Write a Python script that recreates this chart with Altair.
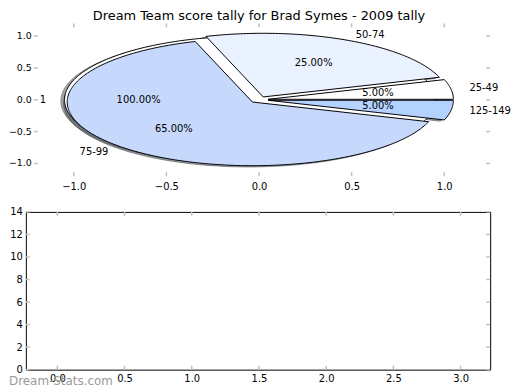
import altair as alt
import numpy as np
import pandas as pd

# ---------------- values ----------------
slice_labels = ["25-49", "50-74", "75-99", "125-149"]
slice_values = [5, 25, 65, 5]
slice_colors = ["#ffffff", "#eaf2ff", "#c6d9fd", "#b4d2ff"]

total_labels = ["1"]
total_values = [1]
total_colors = ["#ffffff"]

explode = 0.05

pie_x_ticks = [-1.0, -0.5, 0.0, 0.5, 1.0]
pie_y_ticks = [-1.0, -0.5, 0.0, 0.5, 1.0]
bar_x_ticks = [0.0, 0.5, 1.0, 1.5, 2.0, 2.5, 3.0]
bar_y_ticks = [0, 2, 4, 6, 8, 10, 12, 14]

title_text = "Dream Team score tally for Brad Symes - 2009 tally"
watermark_text = "Dream-Stats.com"

FONT = "DejaVu Sans"
TICK_COLOR = "#c0c0c0"

# ---------------- layout ----------------
TOP_W, TOP_H = 468, 154
BOT_W, BOT_H = 468, 159
pie_x_dom = [-1.2587, 1.2480]
pie_y_dom = [-1.2, 1.2]
bar_x_dom = [-0.234, 3.22]
bar_y_dom = [0, 14]


def shade(hexcol, f=0.3):
    h = hexcol.lstrip("#")
    r, g, b = (int(h[i:i + 2], 16) for i in (0, 2, 4))
    return "#%02x%02x%02x" % (int(r * f), int(g * f), int(b * f))


def pie_geometry(values, labels, colors, expl):
    """Wedge outlines and label anchors, as matplotlib's pie lays them out."""
    total = float(sum(values))
    t1 = 0.0
    wedges, texts = [], []
    for v, lab, col in zip(values, labels, colors):
        frac = v / total
        t2 = t1 + 360.0 * frac
        mid = np.radians((t1 + t2) / 2.0)
        cx, cy = expl * np.cos(mid), expl * np.sin(mid)
        n = int(abs(t2 - t1)) + 2
        ts = np.radians(np.linspace(t1, t2, n))
        xs = cx + np.cos(ts)
        ys = cy + np.sin(ts)
        if frac < 0.999999:
            xs = np.concatenate([[cx], xs, [cx]])
            ys = np.concatenate([[cy], ys, [cy]])
        wedges.append((pd.DataFrame({"x": xs, "y": ys, "i": np.arange(len(xs))}), col))
        lx = cx + 1.1 * np.cos(mid)
        ly = cy + 1.1 * np.sin(mid)
        px = cx + 0.6 * np.cos(mid)
        py = cy + 0.6 * np.sin(mid)
        texts.append(dict(x=lx, y=ly, t=lab, kind="label",
                          align="left" if lx > 0 else "right"))
        texts.append(dict(x=px, y=py, t="%.2f%%" % (100.0 * frac), kind="pct",
                          align="center"))
        t1 = t2
    return wedges, texts


def tick_text(v):
    s = "%.1f" % abs(v)
    return ("\u2212" + s) if v < 0 else s


tot_w, tot_t = pie_geometry(total_values, total_labels, total_colors, explode)
sl_w, sl_t = pie_geometry(slice_values, slice_labels, slice_colors, explode)
all_wedges = tot_w + sl_w
texts = pd.DataFrame(tot_t + sl_t)

px_axis = alt.Axis(values=pie_x_ticks, format=".1f", domain=False, ticks=False,
                   tickSize=0, grid=False, labelPadding=5, labelFontSize=10,
                   labelFont=FONT, labelColor="black", labelFlush=False,
                   labelOverlap=False, title=None)
PX = alt.X("x:Q", scale=alt.Scale(domain=pie_x_dom, nice=False, zero=False), axis=px_axis)
PY = alt.Y("y:Q", scale=alt.Scale(domain=pie_y_dom, nice=False, zero=False), axis=None)

layers = []
# shadows (drawn beneath every wedge)
for df, col in all_wedges:
    sdf = df.copy()
    sdf["x"] = sdf["x"] - 0.02
    sdf["y"] = sdf["y"] - 0.02
    sc = shade(col)
    layers.append(
        alt.Chart(sdf).mark_line(fill=sc, stroke=sc, fillOpacity=0.5,
                                 strokeOpacity=0.5, strokeWidth=1,
                                 strokeJoin="bevel")
        .encode(x=PX, y=PY, order="i:Q")
    )
# wedges
for df, col in all_wedges:
    layers.append(
        alt.Chart(df).mark_line(fill=col, stroke="black", strokeWidth=1,
                                strokeJoin="bevel")
        .encode(x=PX, y=PY, order="i:Q")
    )
# texts
for al in ["left", "right", "center"]:
    sub = texts[texts["align"] == al]
    layers.append(
        alt.Chart(sub).mark_text(align=al, baseline="middle", fontSize=10,
                                 font=FONT, color="black")
        .encode(x=PX, y=PY, text="t:N")
    )
# y tick labels of the pie axes
pyl = pd.DataFrame({"y": pie_y_ticks, "t": [tick_text(v) for v in pie_y_ticks]})
layers.append(
    alt.Chart(pyl).mark_text(align="right", baseline="middle", fontSize=9.5,
                             font=FONT, color="black")
    .encode(x=alt.value(6), y=PY, text="t:N")
)
# tick marks (inward, grey) on the four sides
pxt = pd.DataFrame({"x": pie_x_ticks})
pyt = pd.DataFrame({"y": pie_y_ticks})
tick_mark = dict(color=TICK_COLOR, strokeWidth=1.5)
layers += [
    alt.Chart(pxt).mark_rule(**tick_mark).encode(x=PX, y=alt.value(0), y2=alt.value(4)),
    alt.Chart(pxt).mark_rule(**tick_mark).encode(x=PX, y=alt.value(TOP_H - 4), y2=alt.value(TOP_H)),
    alt.Chart(pyt).mark_rule(**tick_mark).encode(y=PY, x=alt.value(8), x2=alt.value(12)),
    alt.Chart(pyt).mark_rule(**tick_mark).encode(y=PY, x=alt.value(TOP_W - 4), x2=alt.value(TOP_W)),
]
# title
layers.append(
    alt.Chart(pd.DataFrame({"t": [title_text]})).mark_text(
        align="center", baseline="alphabetic", fontSize=13, font=FONT, color="black")
    .encode(x=alt.value(235), y=alt.value(-3.1), text="t:N")
)
top = alt.layer(*layers).properties(width=TOP_W, height=TOP_H)

# ---------------- empty lower axes ----------------
bx_axis = alt.Axis(values=bar_x_ticks, format=".1f", domain=False, ticks=False,
                   tickSize=0, grid=False, labelPadding=4, labelFontSize=10,
                   labelFont=FONT, labelColor="black", labelFlush=False,
                   labelOverlap=False, title=None)
by_axis = alt.Axis(values=bar_y_ticks, format="d", domain=False, ticks=False,
                   tickSize=0, grid=False, labelPadding=3.5, labelFontSize=10,
                   labelFont=FONT, labelColor="black", labelFlush=False,
                   labelOverlap=False, title=None)
BX = alt.X("x:Q", scale=alt.Scale(domain=bar_x_dom, nice=False, zero=False), axis=bx_axis)
BY = alt.Y("y:Q", scale=alt.Scale(domain=bar_y_dom, nice=False, zero=False), axis=by_axis)
bxt = pd.DataFrame({"x": bar_x_ticks})
byt = pd.DataFrame({"y": bar_y_ticks})
bottom_layers = [
    alt.Chart(bxt).mark_rule(**tick_mark).encode(x=BX, y=alt.value(0), y2=alt.value(4)),
    alt.Chart(bxt).mark_rule(**tick_mark).encode(x=BX, y=alt.value(BOT_H - 4), y2=alt.value(BOT_H)),
    alt.Chart(byt).mark_rule(**tick_mark).encode(y=BY, x=alt.value(0), x2=alt.value(4)),
    alt.Chart(byt).mark_rule(**tick_mark).encode(y=BY, x=alt.value(BOT_W - 4), x2=alt.value(BOT_W)),
    alt.Chart(pd.DataFrame({"t": [watermark_text]})).mark_text(
        align="left", baseline="alphabetic", fontSize=12, font=FONT, color="#9a9a9a")
    .encode(x=alt.value(-17), y=alt.value(174.7), text="t:N"),
]
bottom = alt.layer(*bottom_layers).properties(
    width=BOT_W, height=BOT_H,
    view=alt.ViewBackground(stroke="black", strokeWidth=1),
)

chart = (
    alt.vconcat(top, bottom, spacing=14)
    .properties(padding={"left": 0, "top": 0, "right": 0, "bottom": 0},
                background="white")
    .configure_view(stroke="transparent")
)

chart.save("out.html", embed_options={"renderer": "svg", "actions": False})
